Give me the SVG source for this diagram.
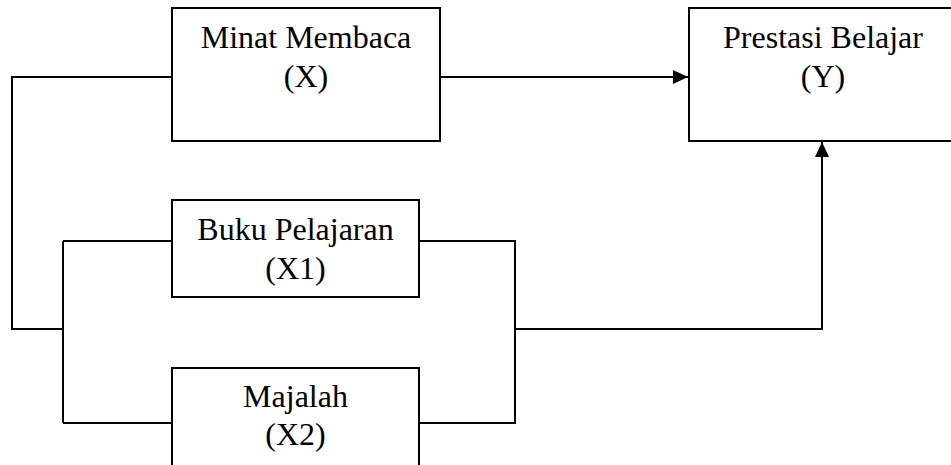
<svg xmlns="http://www.w3.org/2000/svg" width="951" height="465" viewBox="0 0 951 465">
<style>
.box{fill:#fff;stroke:#000;stroke-width:2}
.ln{fill:none;stroke:#000;stroke-width:2}
.t{font-family:"Liberation Serif","Times New Roman",serif;font-size:32px;fill:#000;text-anchor:middle}
</style>
<defs>
<marker id="ah" markerWidth="15" markerHeight="14" refX="15" refY="7" orient="auto" markerUnits="userSpaceOnUse">
<path d="M0,0 L15,7 L0,14 Z" fill="#000"/>
</marker>
</defs>
<rect width="951" height="465" fill="#fff"/>
<g id="connectors">
<path class="ln" d="M172,77 H12 V329 H63"/>
<path class="ln" d="M63,241 V423"/>
<path class="ln" d="M63,241 H172"/>
<path class="ln" d="M63,423 H172"/>
<path class="ln" d="M419,241 H515 V423 H419"/>
<path class="ln" d="M440,77 H688" marker-end="url(#ah)"/>
<path class="ln" d="M515,329 H822 V142" marker-end="url(#ah)"/>
</g>
<g id="minat">
<rect class="box" x="172" y="8" width="268" height="133"/>
<text class="t" x="306" y="48">Minat Membaca</text>
<text class="t" x="306" y="87">(X)</text>
</g>
<g id="prestasi">
<rect class="box" x="689" y="8" width="280" height="133"/>
<text class="t" x="823" y="48">Prestasi Belajar</text>
<text class="t" x="823" y="87">(Y)</text>
</g>
<g id="buku">
<rect class="box" x="172" y="200" width="247" height="97"/>
<text class="t" x="295.5" y="240">Buku Pelajaran</text>
<text class="t" x="295.5" y="279">(X1)</text>
</g>
<g id="majalah">
<rect class="box" x="172" y="368" width="247" height="110"/>
<text class="t" x="295.5" y="407">Majalah</text>
<text class="t" x="295.5" y="445">(X2)</text>
</g>
</svg>
